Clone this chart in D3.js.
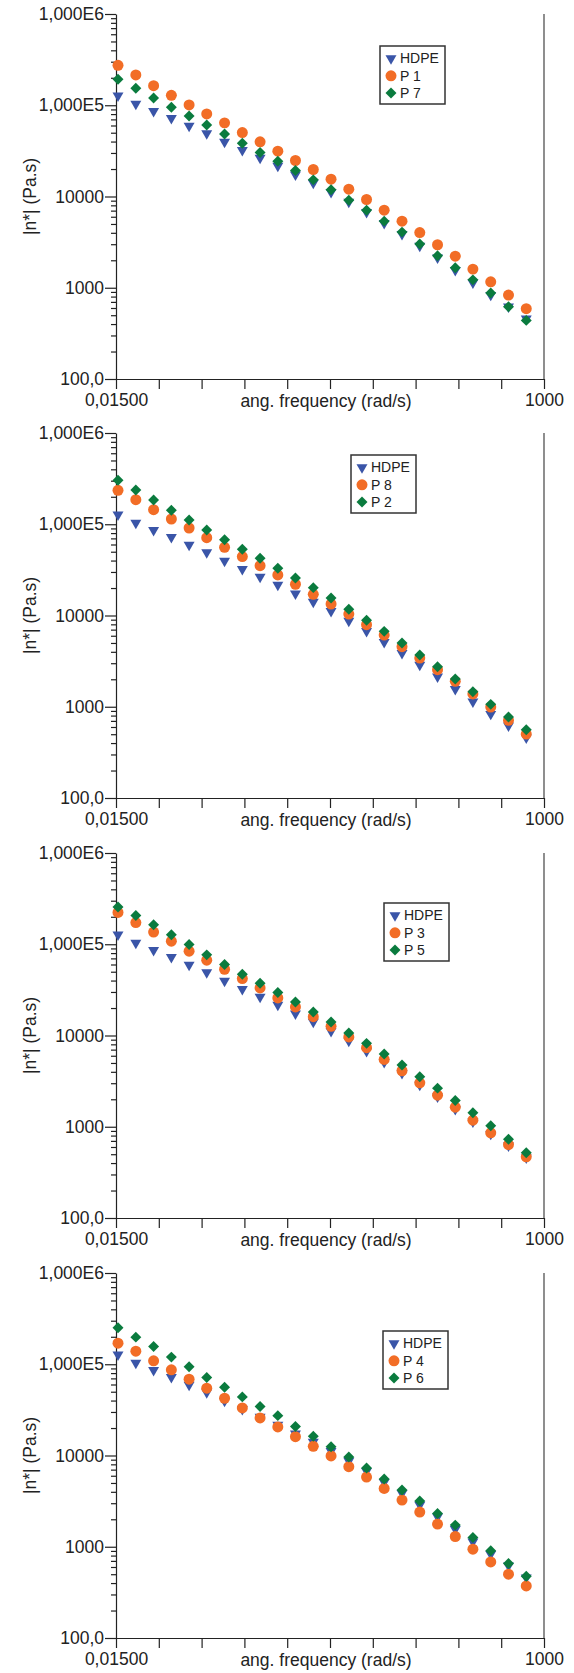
<!DOCTYPE html>
<html>
<head>
<meta charset="utf-8">
<script src="https://cdn.jsdelivr.net/npm/d3@7"></script>
<style>
  body { margin: 0; background: #fff; }
  svg { display: block; font-family: "Liberation Sans", Arial, sans-serif; }
</style>
</head>
<body>
<div id="chart"></div>
<script>
// angular frequency (rad/s), same sweep for every sample
var freq = [0.0158, 0.0251, 0.0398, 0.0631, 0.1, 0.158, 0.251, 0.398, 0.631, 1,
  1.58, 2.51, 3.98, 6.31, 10, 15.8, 25.1, 39.8, 63.1, 100, 158, 251, 398, 631];

// complex viscosity |n*| (Pa.s)
var hdpe = [127600, 103500, 86000, 72100, 59400, 49000, 39700, 32200, 26500, 21700,
  17400, 14100, 11150, 8740, 6730, 5100, 3870, 2880, 2130, 1560, 1135, 832, 620, 458];
var p1 = [274000, 215000, 164000, 128600, 100900, 80400, 64100, 50200, 39700, 31400,
  24800, 19760, 15490, 12030, 9270, 7080, 5370, 4030, 2960, 2220, 1600, 1163, 832, 589];
var p7 = [192600, 153600, 120300, 95000, 76400, 60900, 48500, 38400, 30300, 24400,
  19260, 15220, 11830, 9120, 7080, 5370, 4070, 3010, 2240, 1660, 1220, 875, 620, 439];
var p8 = [235500, 185800, 144500, 114200, 91000, 71300, 55800, 44200, 35200, 27800,
  22000, 17060, 13370, 10380, 7940, 6110, 4550, 3420, 2550, 1900, 1380, 994, 710, 502];
var p2 = [303000, 237000, 184500, 142200, 111400, 86500, 67800, 53100, 42300, 32900,
  25800, 20200, 15560, 11690, 8860, 6700, 5000, 3690, 2750, 2010, 1462, 1062, 772, 561];
var p3 = [223000, 173000, 135800, 108100, 83900, 66900, 53200, 42100, 33200, 25800,
  20560, 16100, 12620, 9640, 7350, 5470, 4110, 3030, 2220, 1640, 1180, 857, 638, 468];
var p5 = [255400, 207000, 163300, 126800, 99300, 76500, 60000, 46950, 37400, 29540,
  23330, 18120, 14070, 10650, 8200, 6270, 4740, 3530, 2650, 1940, 1422, 1024, 731, 518];
var p4 = [170200, 139200, 109100, 86900, 68600, 54600, 42400, 33200, 25800, 20560,
  16100, 12620, 9890, 7540, 5810, 4360, 3250, 2400, 1770, 1295, 940, 682, 500, 372];
var p6 = [251000, 198200, 156700, 119700, 93700, 71600, 56000, 43900, 34400, 27350,
  20750, 16240, 12500, 9640, 7300, 5520, 4190, 3170, 2320, 1726, 1262, 902, 655, 475];

// which samples go in each panel, with legend names
var panelNames = [["HDPE", "P 1", "P 7"], ["HDPE", "P 8", "P 2"], ["HDPE", "P 3", "P 5"], ["HDPE", "P 4", "P 6"]];
var panelValues = [[hdpe, p1, p7], [hdpe, p8, p2], [hdpe, p3, p5], [hdpe, p4, p6]];

// axis labels
var yTickValues = [100, 1000, 10000, 100000, 1000000];
var yTickLabels = ["100,0", "1000", "10000", "1,000E5", "1,000E6"];
var xDomain = [0.015, 1000];
var xTickLabels = ["0,01500", "1000"];
var xTitle = "ang. frequency (rad/s)";
var yTitle = "|n*| (Pa.s)";

var colors = ["#3a55a8", "#f26d26", "#0a7b3e"];
var shapes = [d3.symbolTriangle, d3.symbolCircle, d3.symbolSquare];
var sizes = [52, 95, 60];
var rotations = [180, 0, 45];

var svgWidth = 574, svgHeight = 1673;
var left = 116, right = 544, plotHeight = 365;
var panelTops = [14, 433, 853, 1273];
var legendPos = [[380, 32], [351, 22], [384, 50], [383, 58]];
var axisFont = 17.5;

var svg = d3.select("#chart").append("svg")
  .attr("width", svgWidth).attr("height", svgHeight);

var x = d3.scaleLog().domain(xDomain).range([left, right]);
// ten equal log divisions along x, labelled only at the ends
var xTicks = d3.range(11).map(function (i) {
  return xDomain[0] * Math.pow(xDomain[1] / xDomain[0], i / 10);
});
var yMinor = [];
yTickValues.slice(0, -1).forEach(function (v) {
  for (var k = 2; k < 10; k++) yMinor.push(v * k);
});

panelTops.forEach(function (top, p) {
  var bottom = top + plotHeight;
  var y = d3.scaleLog().domain([100, 1e6]).range([bottom, top]);
  var g = svg.append("g");

  // right frame line
  g.append("line")
    .attr("x1", right).attr("x2", right).attr("y1", top).attr("y2", bottom)
    .attr("stroke", "#444").attr("stroke-width", 1.2);

  // y axis, minor ticks then major ticks
  g.append("g")
    .attr("transform", "translate(" + left + ",0)")
    .call(d3.axisLeft(y).tickValues(yMinor).tickSize(5).tickFormat(""))
    .call(function (a) { a.select(".domain").remove(); });
  var yAxis = g.append("g")
    .attr("transform", "translate(" + left + ",0)")
    .call(d3.axisLeft(y).tickValues(yTickValues).tickSize(11).tickPadding(1).tickSizeOuter(0)
      .tickFormat(function (d, i) { return yTickLabels[i]; }));
  yAxis.selectAll("text").attr("font-size", axisFont).attr("fill", "#222")
    .attr("font-family", "Liberation Sans, Arial, sans-serif");

  // x axis
  var xAxis = g.append("g")
    .attr("transform", "translate(0," + bottom + ")")
    .call(d3.axisBottom(x).tickValues(xTicks).tickSize(10).tickPadding(5).tickSizeOuter(0)
      .tickFormat(function (d, i) {
        if (i === 0) return xTickLabels[0];
        if (i === xTicks.length - 1) return xTickLabels[1];
        return "";
      }));
  xAxis.selectAll("text").attr("font-size", axisFont).attr("fill", "#222")
    .attr("font-family", "Liberation Sans, Arial, sans-serif");
  g.selectAll(".domain, .tick line").attr("stroke", "#222").attr("stroke-width", 1.2);

  g.append("text")
    .attr("x", 326).attr("y", bottom + 28)
    .attr("text-anchor", "middle").attr("font-size", axisFont).attr("fill", "#222")
    .text(xTitle);

  g.append("text")
    .attr("transform", "translate(30," + (top + plotHeight / 2) + ") rotate(-90)")
    .attr("text-anchor", "middle").attr("dy", "0.35em")
    .attr("font-size", axisFont).attr("fill", "#222")
    .text(yTitle);

  // markers
  panelValues[p].forEach(function (vals, s) {
    var sym = d3.symbol().type(shapes[s]).size(sizes[s]);
    g.append("g").selectAll("path").data(vals).enter().append("path")
      .attr("d", sym)
      .attr("fill", colors[s])
      .attr("transform", function (d, i) {
        return "translate(" + x(freq[i]) + "," + y(d) + ") rotate(" + rotations[s] + ")";
      });
  });

  // legend
  var lx = legendPos[p][0], ly = top + legendPos[p][1];
  var leg = g.append("g").attr("transform", "translate(" + lx + "," + ly + ")");
  leg.append("rect").attr("width", 65).attr("height", 58)
    .attr("fill", "#fff").attr("stroke", "#333").attr("stroke-width", 1.5);
  panelNames[p].forEach(function (name, s) {
    var ry = 12.5 + s * 17.3;
    leg.append("path")
      .attr("d", d3.symbol().type(shapes[s]).size(sizes[s]))
      .attr("fill", colors[s])
      .attr("transform", "translate(11," + ry + ") rotate(" + rotations[s] + ")");
    leg.append("text")
      .attr("x", 20).attr("y", ry).attr("dy", "0.35em")
      .attr("font-size", 14).attr("fill", "#222")
      .text(name);
  });
});
</script>
</body>
</html>
